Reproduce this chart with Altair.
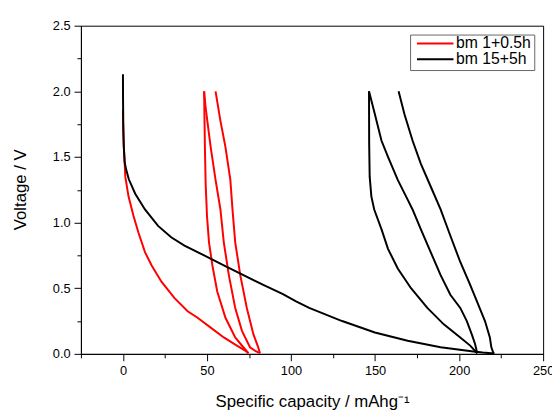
import altair as alt
import pandas as pd

series_names = ["bm 1+0.5h", "bm 15+5h"]
series_colors = ["#ff0000", "#000000"]

# ---- bm 1+0.5h (red) ----
red_d1_x = [0, 0.05, 0.2, 0.5, 0.8, 1.4, 3.3, 6.3, 9.2, 13.1, 17, 22.9, 30.7, 38.5, 44.4, 52.2, 60, 67.8, 72.7, 74.7]
red_d1_y = [1.86, 1.78, 1.68, 1.58, 1.52, 1.35, 1.2, 1.05, 0.925, 0.775, 0.675, 0.55, 0.425, 0.325, 0.275, 0.2, 0.125, 0.063, 0.025, 0.005]
red_c1_x = [74.7, 71, 66.8, 61, 56.1, 53.2, 51.2, 50.0, 49.2, 48.8, 48.5, 48.3]
red_c1_y = [0.005, 0.06, 0.125, 0.275, 0.475, 0.675, 0.85, 1.05, 1.3, 1.55, 1.8, 2.0]
red_d2_x = [48.3, 49.2, 52.2, 55.1, 58, 60, 63, 66.8, 70.8, 75.6, 79, 81.5]
red_d2_y = [2.0, 1.875, 1.575, 1.325, 1.1, 0.85, 0.6, 0.35, 0.175, 0.05, 0.02, 0.005]
red_c2_x = [81.5, 80.5, 77.6, 73.7, 69.8, 66.8, 65.3, 63.9, 61, 58, 55.1]
red_c2_y = [0.005, 0.05, 0.15, 0.35, 0.6, 0.85, 1.08, 1.325, 1.575, 1.775, 2.0]

# ---- bm 15+5h (black) ----
blk_d1_x = [0, 0.05, 0.2, 0.5, 1.0, 2.0, 3.5, 7.3, 13.1, 20.9, 28.7, 36.6, 48.3, 60, 71.7, 83.5, 95.2, 103, 110.8, 130.4, 149.9, 169.4, 189, 208.5, 214, 221]
blk_d1_y = [2.13, 1.95, 1.75, 1.58, 1.46, 1.40, 1.33, 1.22, 1.10, 0.975, 0.888, 0.825, 0.75, 0.675, 0.60, 0.525, 0.455, 0.40, 0.35, 0.25, 0.163, 0.10, 0.05, 0.018, 0.01, 0.003]
blk_c1_x = [210.8, 206.6, 200.7, 190.9, 181.1, 171.4, 163.5, 157.7, 153.8, 149.5, 147.8, 146.8, 146.5, 146.4]
blk_c1_y = [0.005, 0.063, 0.125, 0.225, 0.35, 0.5, 0.65, 0.8, 0.95, 1.1, 1.2, 1.35, 1.6, 2.0]
blk_d2_x = [146.4, 149.9, 153.8, 157.7, 163.5, 169.4, 172.3, 177.2, 183.1, 189, 194.8, 200.7, 204.6, 207.5, 209.5, 210.8]
blk_d2_y = [2.0, 1.825, 1.625, 1.5, 1.325, 1.175, 1.1, 0.95, 0.775, 0.6, 0.45, 0.35, 0.25, 0.15, 0.075, 0.005]
blk_c2_x = [220.5, 219.2, 218.3, 215.4, 211.4, 206.6, 200.7, 194.8, 189, 183.1, 177.2, 172.3, 167.5, 164]
blk_c2_y = [0.003, 0.05, 0.125, 0.25, 0.375, 0.525, 0.7, 0.9, 1.1, 1.275, 1.45, 1.625, 1.825, 2.0]


def frame(series, segs):
    rows = []
    for seg, xs, ys in segs:
        for i, (x, y) in enumerate(zip(xs, ys)):
            rows.append({"series": series, "seg": seg, "i": i, "cap": x, "v": y})
    return pd.DataFrame(rows)


red_df = frame(series_names[0], [("d1", red_d1_x, red_d1_y), ("c1", red_c1_x, red_c1_y),
                                 ("d2", red_d2_x, red_d2_y), ("c2", red_c2_x, red_c2_y)])
blk_df = frame(series_names[1], [("d1", blk_d1_x, blk_d1_y), ("c1", blk_c1_x, blk_c1_y),
                                 ("d2", blk_d2_x, blk_d2_y), ("c2", blk_c2_x, blk_c2_y)])

FONT = "Liberation Sans"

x_enc = alt.X(
    "cap:Q",
    scale=alt.Scale(domain=[-25, 250], nice=False, zero=False),
    axis=alt.Axis(
        title="Specific capacity / mAhg\u207b\u00b9",
        values=list(range(-25, 251, 25)),
        labelExpr="datum.value % 50 == 0 ? datum.value : ''",
        tickSize={"condition": {"test": "datum.value % 50 == 0", "value": 7}, "value": 4},
        labelPadding=4,
        labelFlush=False,
        labelOverlap=False,
        titleY=53,
        titleBaseline="alphabetic",
        grid=False,
    ),
)
y_enc = alt.Y(
    "v:Q",
    scale=alt.Scale(domain=[0, 2.5], nice=False, zero=False),
    axis=alt.Axis(
        title="Voltage / V",
        values=[i * 0.25 for i in range(11)],
        labelExpr="datum.value % 0.5 == 0 ? format(datum.value, '.1f') : ''",
        tickSize={"condition": {"test": "datum.value % 0.5 == 0", "value": 7}, "value": 4},
        labelPadding=4,
        labelFlush=False,
        labelOverlap=False,
        titleX=-61,
        titleY=166,
        titleBaseline="middle",
        grid=False,
    ),
)
color_enc = alt.Color(
    "series:N",
    scale=alt.Scale(domain=series_names, range=series_colors),
    legend=alt.Legend(
        title=None,
        orient="none",
        legendX=334,
        legendY=9,
        symbolType="M-3.7,0H3.7",
        symbolSize=100,
        symbolStrokeWidth=2,
        symbolOffset=14.5,
        labelOffset=13,
        labelFontSize=16,
        labelFont=FONT,
        labelColor="black",
        strokeColor="#666666",
        fillColor="white",
        padding=3,
        clipHeight=12,
        rowPadding=0,
    ),
)


def layer(df):
    return alt.Chart(df).mark_line(strokeWidth=2).encode(
        x=x_enc, y=y_enc, color=color_enc,
        detail="seg:N", order=alt.Order("i:Q"),
    )


chart = alt.layer(layer(red_df), layer(blk_df)).properties(
    width=469,
    height=333,
    autosize=alt.AutoSizeParams(type="none"),
    padding={"left": 74, "top": 15, "right": 9, "bottom": 54},
).configure_view(
    stroke="black", strokeWidth=1
).configure_axis(
    labelFont=FONT, titleFont=FONT, labelFontSize=13, titleFontSize=17,
    titleFontWeight="normal", labelColor="black", titleColor="black",
    domainColor="black", tickColor="black", domainWidth=1, tickWidth=1,
)

chart.save("out.html", embed_options={"renderer": "svg", "actions": False})
